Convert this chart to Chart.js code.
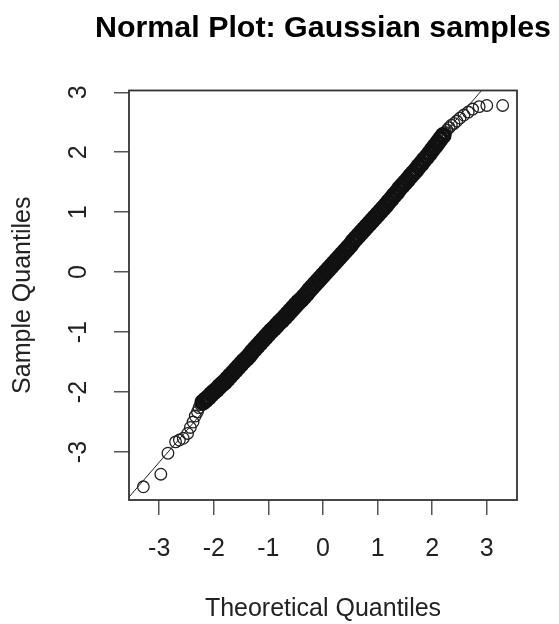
<!DOCTYPE html>
<html>
<head>
<meta charset="utf-8">
<title>Normal Plot: Gaussian samples</title>
<script src="https://cdn.jsdelivr.net/npm/chart.js@4.4.1/dist/chart.umd.min.js"></script>
<style>
    body { margin: 0; background: #fff; }
    canvas { display: block; }
</style>
</head>
<body>
<canvas id="chart" width="559" height="624"></canvas>
<script>
// QQ plot: theoretical quantiles (x) vs sample quantiles (y)

// lower tail, single circles
let lowerTailX = [-3.29, -2.97, -2.84, -2.70, -2.63, -2.56, -2.48, -2.43, -2.38, -2.34, -2.30, -2.27, -2.24];
let lowerTailY = [-3.58, -3.37, -3.02, -2.83, -2.80, -2.77, -2.69, -2.59, -2.50, -2.40, -2.33, -2.26, -2.21];

// the solid black middle part
let bodyX = [-2.20, -2.15, -2.10, -2.05, -2.00, -1.95, -1.90, -1.85, -1.80, -1.75, -1.70, -1.65, -1.60, -1.55, -1.50,
    -1.45, -1.40, -1.35, -1.30, -1.25, -1.20, -1.15, -1.10, -1.05, -1.00, -0.95, -0.90, -0.85, -0.80, -0.75, -0.70,
    -0.65, -0.60, -0.55, -0.50, -0.45, -0.40, -0.35, -0.30, -0.25, -0.20, -0.15, -0.10, -0.05, 0.00, 0.05, 0.10,
    0.15, 0.20, 0.25, 0.30, 0.35, 0.40, 0.45, 0.50, 0.55, 0.60, 0.65, 0.70, 0.75, 0.80, 0.85, 0.90, 0.95, 1.00,
    1.05, 1.10, 1.15, 1.20, 1.25, 1.30, 1.35, 1.40, 1.45, 1.50, 1.55, 1.60, 1.65, 1.70, 1.75, 1.80, 1.85, 1.90,
    1.95, 2.00, 2.05, 2.10, 2.15, 2.20];
let bodyY = [-2.17, -2.13, -2.09, -2.04, -2.00, -1.96, -1.91, -1.87, -1.83, -1.78, -1.73, -1.68, -1.63, -1.58, -1.53,
    -1.48, -1.44, -1.39, -1.33, -1.28, -1.23, -1.18, -1.13, -1.08, -1.03, -0.98, -0.94, -0.89, -0.84, -0.80, -0.75,
    -0.70, -0.65, -0.60, -0.55, -0.50, -0.46, -0.41, -0.36, -0.30, -0.25, -0.20, -0.15, -0.10, -0.05, 0.00, 0.05,
    0.10, 0.15, 0.20, 0.25, 0.30, 0.35, 0.40, 0.45, 0.51, 0.56, 0.61, 0.66, 0.71, 0.76, 0.81, 0.86, 0.91, 0.96,
    1.01, 1.06, 1.11, 1.17, 1.22, 1.28, 1.33, 1.39, 1.44, 1.49, 1.54, 1.60, 1.65, 1.70, 1.76, 1.81, 1.87, 1.92,
    1.98, 2.04, 2.10, 2.16, 2.22, 2.28];

// upper tail, single circles
let upperTailX = [2.24, 2.27, 2.31, 2.35, 2.40, 2.45, 2.51, 2.58, 2.66, 2.74, 2.86, 3.00, 3.29];
let upperTailY = [2.33, 2.37, 2.41, 2.45, 2.48, 2.52, 2.57, 2.62, 2.67, 2.72, 2.76, 2.78, 2.78];

// qqline ends (drawn past the box, clipped)
let refLineX = [-3.6, 3.6];
let refLineY = [-3.80, 3.76];

let xTickValues = [-3, -2, -1, 0, 1, 2, 3];
let yTickValues = [-3, -2, -1, 0, 1, 2, 3];

function pairs(xs, ys) {
    return xs.map((x, i) => ({x: x, y: ys[i]}));
}

Chart.defaults.font.family = "'Liberation Sans', Arial, sans-serif";
Chart.defaults.color = '#222';

// box round the plot area like R's box()
let plotBox = {
    id: 'plotBox',
    afterDatasetsDraw(c) {
        let a = c.chartArea;
        let ctx = c.ctx;
        ctx.save();
        ctx.strokeStyle = '#333';
        ctx.lineWidth = 1.8;
        ctx.strokeRect(a.left, a.top, a.right - a.left, a.bottom - a.top);
        ctx.restore();
    }
};

let chart = document.getElementById('chart').getContext('2d');
let qqChart = new Chart(chart, {
    type: 'scatter',
    data: {
        datasets: [
            {
                label: 'body',
                data: pairs(bodyX, bodyY),
                pointRadius: 6.5,
                pointBorderWidth: 4,
                pointBorderColor: '#111',
                pointBackgroundColor: 'transparent'
            },
            {
                label: 'tails',
                data: pairs(lowerTailX, lowerTailY).concat(pairs(upperTailX, upperTailY)),
                pointRadius: 5.8,
                pointBorderWidth: 1.3,
                pointBorderColor: '#222',
                pointBackgroundColor: 'transparent'
            },
            {
                label: 'qqline',
                data: pairs(refLineX, refLineY),
                showLine: true,
                borderColor: '#222',
                borderWidth: 1,
                pointRadius: 0
            }
        ]
    },
    options: {
        responsive: false,
        animation: false,
        layout: {padding: {left: 0, right: 8, top: 0, bottom: 0}},
        plugins: {
            legend: {display: false},
            tooltip: {enabled: false},
            title: {
                display: true,
                text: 'Normal Plot: Gaussian samples',
                align: 'end',
                color: '#000',
                font: {size: 30.4, weight: 'bold'},
                padding: {top: 10, bottom: 44}
            }
        },
        scales: {
            x: {
                type: 'linear',
                min: -3.553,
                max: 3.553,
                afterBuildTicks: s => { s.ticks = xTickValues.map(v => ({value: v})); },
                afterFit: s => { s.height = 124; },
                ticks: {font: {size: 25}, padding: 19, color: '#222'},
                grid: {display: true, drawOnChartArea: false, drawTicks: true, tickLength: 15, color: '#555', lineWidth: 1.5},
                border: {display: false},
                title: {display: true, text: 'Theoretical Quantiles', font: {size: 25}, color: '#222', padding: {top: 0, bottom: 0}}
            },
            y: {
                type: 'linear',
                min: -3.80,
                max: 3.03,
                afterBuildTicks: s => { s.ticks = yTickValues.map(v => ({value: v})); },
                afterFit: s => { s.width = 129; },
                ticks: {font: {size: 25}, padding: 24, color: '#222', minRotation: 90, maxRotation: 90, crossAlign: 'center'},
                grid: {display: true, drawOnChartArea: false, drawTicks: true, tickLength: 15, color: '#555', lineWidth: 1.5},
                border: {display: false},
                title: {display: true, text: 'Sample Quantiles', font: {size: 25}, color: '#222', padding: {top: 8, bottom: 0}}
            },
            // empty strip on the right so the plot box ends where R put it
            yRight: {
                type: 'linear',
                position: 'right',
                display: true,
                min: -3.80,
                max: 3.03,
                afterFit: s => { s.width = 34; },
                ticks: {display: false},
                grid: {display: false},
                border: {display: false}
            }
        }
    },
    plugins: [plotBox]
});
</script>
</body>
</html>
